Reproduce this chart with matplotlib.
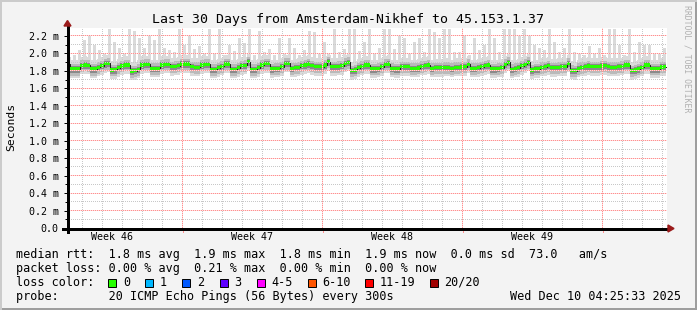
import numpy as np
import matplotlib
matplotlib.use("Agg")
import matplotlib.pyplot as plt
from matplotlib.patches import Rectangle, Polygon
from matplotlib.lines import Line2D
from matplotlib.colors import to_rgba

plt.rcParams['font.family'] = ['DejaVu Sans Mono']

# ---------------- data ----------------
title = "Last 30 Days from Amsterdam-Nikhef to 45.153.1.37"
samples_per_day = 6
# median rtt in ms, 6 samples per day, 30 days
median_ms = [
    1.880, 1.820, 1.820, 1.820, 1.863, 1.867,
    1.863, 1.820, 1.820, 1.840, 1.860, 1.880,
    1.886, 1.810, 1.814, 1.837, 1.856, 1.867,
    1.867, 1.798, 1.803, 1.818, 1.867, 1.875,
    1.875, 1.829, 1.829, 1.829, 1.867, 1.875,
    1.875, 1.848, 1.852, 1.860, 1.879, 1.879,
    1.879, 1.848, 1.841, 1.841, 1.867, 1.875,
    1.875, 1.818, 1.818, 1.837, 1.852, 1.879,
    1.879, 1.818, 1.818, 1.837, 1.860, 1.863,
    1.905, 1.818, 1.818, 1.837, 1.867, 1.883,
    1.883, 1.822, 1.829, 1.829, 1.848, 1.886,
    1.886, 1.829, 1.837, 1.841, 1.860, 1.867,
    1.879, 1.860, 1.848, 1.848, 1.848, 1.867,
    1.905, 1.848, 1.848, 1.852, 1.860, 1.886,
    1.898, 1.803, 1.810, 1.837, 1.852, 1.867,
    1.867, 1.822, 1.822, 1.829, 1.848, 1.875,
    1.879, 1.829, 1.822, 1.822, 1.848, 1.848,
    1.848, 1.829, 1.829, 1.833, 1.852, 1.860,
    1.867, 1.829, 1.837, 1.837, 1.837, 1.841,
    1.841, 1.829, 1.841, 1.841, 1.845, 1.848,
    1.875, 1.829, 1.829, 1.837, 1.848, 1.860,
    1.867, 1.822, 1.822, 1.829, 1.837, 1.875,
    1.898, 1.818, 1.829, 1.837, 1.860, 1.875,
    1.898, 1.810, 1.822, 1.822, 1.841, 1.848,
    1.860, 1.837, 1.837, 1.841, 1.848, 1.848,
    1.886, 1.807, 1.803, 1.829, 1.841, 1.848,
    1.856, 1.848, 1.848, 1.848, 1.856, 1.860,
    1.848, 1.841, 1.841, 1.848, 1.852, 1.867,
    1.867, 1.803, 1.810, 1.822, 1.841, 1.867,
    1.867, 1.825, 1.822, 1.825, 1.845, 1.848,
]
# max ping (top of the smoke spikes), ms, 4 samples per day
spikes_per_day = 4
ping_max_ms = [
    1.96, 1.98, 2.04, 2.15,
    2.21, 2.10, 2.04, 2.00,
    2.28, 2.13, 2.06, 2.00,
    2.28, 2.25, 2.17, 2.06,
    2.21, 2.15, 2.28, 2.06,
    2.04, 2.02, 2.28, 2.10,
    2.20, 2.05, 2.08, 2.00,
    2.28, 2.00, 2.28, 1.98,
    2.10, 2.03, 2.17, 2.12,
    2.28, 1.98, 2.26, 2.02,
    2.05, 1.98, 2.17, 2.00,
    2.17, 2.06, 1.98, 2.04,
    2.26, 2.24, 2.00, 2.13,
    1.98, 2.28, 2.02, 2.05,
    2.28, 2.28, 2.03, 2.13,
    2.28, 2.00, 2.06, 2.28,
    2.28, 2.05, 2.20, 2.17,
    2.00, 2.13, 2.17, 2.02,
    2.28, 2.24, 2.17, 2.28,
    2.28, 2.02, 2.02, 2.20,
    1.98, 2.17, 2.04, 2.10,
    2.28, 2.17, 2.02, 2.28,
    2.28, 2.28, 2.21, 2.28,
    2.21, 2.10, 2.06, 2.04,
    2.28, 2.13, 2.02, 2.06,
    2.28, 2.02, 2.00, 1.98,
    2.08, 2.00, 2.06, 1.98,
    2.28, 2.28, 2.10, 1.98,
    2.28, 2.02, 2.13, 2.10,
    2.10, 2.00, 2.00, 2.06,
]
# smoke spread around the median (ms), lightest first
smoke_below = [0.105, 0.075, 0.045, 0.018]
smoke_above = [0.100, 0.055, 0.030, 0.013]
smoke_colors = ['#dadada', '#bababa', '#8a8a8a', '#4a4a4a']

ytick_values = [0.0, 0.2, 0.4, 0.6, 0.8, 1.0, 1.2, 1.4, 1.6, 1.8, 2.0, 2.2]
ytick_labels = ["0.0", "0.2 m", "0.4 m", "0.6 m", "0.8 m", "1.0 m", "1.2 m",
                "1.4 m", "1.6 m", "1.8 m", "2.0 m", "2.2 m"]
week_labels = ["Week 46", "Week 47", "Week 48", "Week 49"]
week_starts = [5.75, 12.75, 19.75, 26.75]   # Monday boundaries (days from left edge)

legend_lines = [
    "median rtt:  1.8 ms avg  1.9 ms max  1.8 ms min  1.9 ms now  0.0 ms sd  73.0   am/s",
    "packet loss: 0.00 % avg  0.21 % max  0.00 % min  0.00 % now",
    "loss color:",
    "probe:       20 ICMP Echo Pings (56 Bytes) every 300s",
]
loss_labels = ["0", "1", "2", "3", "4-5", "6-10", "11-19", "20/20"]
loss_colors = ['#26ff00', '#00b8ff', '#0059ff', '#5e00ff', '#ff00ff',
               '#ff5500', '#ff0000', '#a00000']
timestamp = "Wed Dec 10 04:25:33 2025"

# ---------------- figure ----------------
W, H = 697, 310
AX_L, AX_T, AX_W, AX_H = 67, 28, 600, 200
YMAX = 2.29
def fx(px):
    return px / W
def fy(py):
    return 1 - py / H

fig = plt.figure(figsize=(W / 100, H / 100), dpi=100)
fig.patch.set_facecolor('#f3f3f3')

ax = fig.add_axes([fx(AX_L), fy(AX_T + AX_H), AX_W / W, AX_H / H])
ax.set_facecolor('white')
ax.set_xlim(0, 30)
ax.set_ylim(0, YMAX)
for s in ax.spines.values():
    s.set_visible(False)

med = np.array(median_ms)
t = np.arange(len(med)) / samples_per_day
t_ext = np.append(t, 29.95)
med_ext = np.append(med, med[-1])

# spikes (max pings)
pm = np.array(ping_max_ms)
ts = (np.arange(len(pm)) + 0.5) / spikes_per_day
ax.bar(ts, pm - 1.80, bottom=1.80, width=0.14, color='#dadada', lw=0, zorder=1)

# smoke bands
for lo, hi, c in zip(smoke_below, smoke_above, smoke_colors):
    ax.fill_between(t_ext, med_ext - lo, med_ext + hi, step='post', color=c,
                    lw=0, zorder=2)

# median: dark step + green blocks
ax.step(t_ext, med_ext, where='post', color='#1a1a1a', lw=0.7, zorder=3)
ax.fill_between(t_ext, med_ext - 0.019, med_ext + 0.019, step='post',
                color='#26ff00', lw=0, zorder=4)

# grid: pixel-exact 1-on/1-off dotted lines placed 1:1 on the figure
grid = np.zeros((AX_H, AX_W, 4))
minor_c = to_rgba('#c8c8c8')
major_c = to_rgba('#ff9090')
major_gap = to_rgba('#ffdede')
px_per_val = AX_H / YMAX
for i in range(1, 23):
    v = i * 0.1
    r = int(np.floor(AX_H - v * px_per_val))
    if 0 <= r < AX_H:
        if i % 2 == 0:
            grid[r, 1::2] = major_gap
            grid[r, 0::2] = major_c
        else:
            grid[r, 0::2] = minor_c
vcols = []
for k in range(30):
    d = 0.75 + k
    c = int(np.floor(d * AX_W / 30))
    major = any(abs(d - w) < 1e-6 for w in week_starts)
    vcols.append((c, major))
for c, major in vcols:
    if not major:
        grid[AX_H - 1::-2, c] = minor_c
for c, major in vcols:
    if major:
        grid[AX_H - 2::-2, c] = major_gap
        grid[AX_H - 1::-2, c] = major_c
fig.figimage(grid, xo=AX_L, yo=H - (AX_T + AX_H), origin='upper', zorder=1)

# ticks
ax.set_yticks(ytick_values)
ax.set_yticklabels(ytick_labels)
ax.set_yticks(np.arange(0.1, 2.29, 0.2), minor=True)
ax.tick_params(axis='y', which='major', length=2.4, width=0.72, pad=3.6,
               labelsize=7.2, color='black')
ax.tick_params(axis='y', which='minor', length=1.5, width=0.72, color='black')
ax.set_xticks([])
for w, lab in zip(week_starts, week_labels):
    ax.text(w - 3.5, -0.0465, lab, transform=ax.get_xaxis_transform(),
            ha='center', va='center', fontsize=7.2)
    xp = AX_L + int(np.floor(w * AX_W / 30))
    fig.add_artist(Line2D([fx(xp + 0.5), fx(xp + 0.5)], [fy(228), fy(232)],
                          color='#ff9090', lw=0.72, antialiased=False, zorder=2))

# axes lines and arrows
fig.add_artist(Line2D([fx(62.5), fx(668)], [fy(228.5), fy(228.5)],
                      color='black', lw=0.8, antialiased=False, zorder=3))
fig.add_artist(Line2D([fx(67.5), fx(67.5)], [fy(232), fy(26)],
                      color='black', lw=0.8, antialiased=False, zorder=3))
fig.add_artist(Polygon([[fx(668), fy(225)], [fx(674), fy(228.5)], [fx(668), fy(232)]],
                       closed=True, color='#9a1a1a', transform=fig.transFigure,
                       zorder=3))
fig.add_artist(Polygon([[fx(64), fy(26)], [fx(67.5), fy(20.5)], [fx(71), fy(26)]],
                       closed=True, color='#9a1a1a', transform=fig.transFigure,
                       zorder=3))

# texts
fig.text(fx(347.7), fy(19), title, ha='center', va='center', fontsize=9.55)
fig.text(fx(11), fy(127), "Seconds", rotation=90, ha='center', va='center',
         fontsize=8.2)
fig.text(fx(687.5), fy(59), "RRDTOOL / TOBI OETIKER", rotation=270,
         ha='center', va='center', fontsize=5.9, color='#b0b0b0')

legend_y = [254.3, 268.3, 282.3, 296.3]
for line, yy in zip(legend_lines, legend_y):
    fig.text(fx(16.4), fy(yy), line, ha='left', va='center', fontsize=8.5)
fig.text(fx(680.5), fy(296.3), timestamp, ha='right', va='center', fontsize=8.5)

box_x = [108.4, 145.3, 182.2, 220.0, 256.9, 307.6, 365.3, 430.2]
lab_x = [123.6, 160.0, 196.9, 234.2, 271.1, 322.2, 380.0, 444.4]
for bx, lx, lab, col in zip(box_x, lab_x, loss_labels, loss_colors):
    fig.add_artist(Rectangle((fx(bx), fy(286.5)), 8 / W, 8 / H, facecolor=col,
                             edgecolor='black', lw=0.7, transform=fig.transFigure))
    fig.text(fx(lx), fy(282.3), lab, ha='left', va='center', fontsize=8.5)

# frame shading
fig.add_artist(Rectangle((0, 0), 1, 2 / H, facecolor='#9e9e9e', lw=0,
                         transform=fig.transFigure))
fig.add_artist(Rectangle((1 - 2 / W, 0), 2 / W, 1, facecolor='#9e9e9e', lw=0,
                         transform=fig.transFigure))
fig.add_artist(Rectangle((0, 1 - 2 / H), 1, 2 / H, facecolor='#cbcbcb', lw=0,
                         transform=fig.transFigure))
fig.add_artist(Rectangle((0, 0), 2 / W, 1, facecolor='#cbcbcb', lw=0,
                         transform=fig.transFigure))

fig.savefig("out.png", dpi=100, facecolor=fig.get_facecolor())
